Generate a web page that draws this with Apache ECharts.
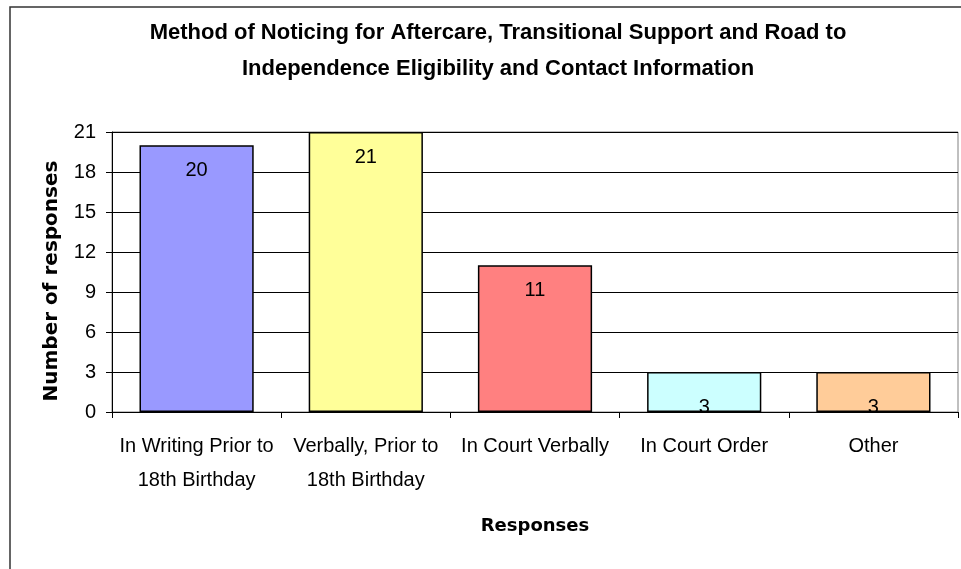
<!DOCTYPE html>
<html>
<head>
<meta charset="utf-8">
<script src="https://cdn.jsdelivr.net/npm/echarts@6/dist/echarts.min.js"></script>
<style>
  html, body { margin: 0; padding: 0; background: #fff; }
  #chart { width: 961px; height: 569px; }
</style>
</head>
<body>
<div id="chart"></div>
<script>
  // chart data
  var categories = ['In Writing Prior to\n18th Birthday', 'Verbally, Prior to\n18th Birthday', 'In Court Verbally', 'In Court Order', 'Other'];
  var responses = [20, 21, 11, 3, 3];
  var barColors = ['#9999FF', '#FFFF99', '#FF8080', '#CCFFFF', '#FFCC99'];
  var yTicks = [0, 3, 6, 9, 12, 15, 18, 21];

  var chart = echarts.init(document.getElementById('chart'));

  var option = {
    backgroundColor: '#fff',
    animation: false,
    title: {
      text: 'Method of Noticing for Aftercare, Transitional Support and Road to\nIndependence Eligibility and Contact Information',
      left: 493,
      textAlign: 'center',
      top: 10,
      textStyle: {
        fontFamily: 'Liberation Sans',
        fontWeight: 'bold',
        fontSize: 22,
        lineHeight: 36,
        color: '#000'
      }
    },
    graphic: [
      {
        // outer chart border
        type: 'rect',
        shape: { x: 10, y: 7, width: 1000, height: 700 },
        style: { fill: 'none', stroke: '#333', lineWidth: 1.5 },
        silent: true
      }
    ],
    grid: {
      left: 112,
      right: 3,
      top: 132,
      bottom: 157,
      show: true,
      borderColor: '#808080',
      borderWidth: 1
    },
    xAxis: {
      type: 'category',
      data: categories,
      name: 'Responses',
      nameLocation: 'middle',
      nameGap: 105,
      nameTextStyle: { fontFamily: 'DejaVu Sans', fontWeight: 'bold', fontSize: 18, color: '#000' },
      axisLine: { lineStyle: { color: '#000', width: 1 } },
      axisTick: { show: true, length: 6, interval: 0, lineStyle: { color: '#000' } },
      axisLabel: {
        interval: 0,
        margin: 17,
        fontFamily: 'Liberation Sans',
        fontSize: 20,
        lineHeight: 34,
        color: '#000'
      }
    },
    yAxis: {
      type: 'value',
      min: yTicks[0],
      max: yTicks[yTicks.length - 1],
      interval: 3,
      name: 'Number of responses',
      nameLocation: 'middle',
      nameGap: 50,
      nameTextStyle: { fontFamily: 'DejaVu Sans', fontWeight: 'bold', fontSize: 20, color: '#000', padding: [0, 18, 0, 0] },
      axisLine: { show: true, lineStyle: { color: '#000', width: 1 } },
      axisTick: { show: true, length: 6, lineStyle: { color: '#000' } },
      splitLine: { lineStyle: { color: '#000', width: 1 } },
      axisLabel: {
        margin: 16,
        fontFamily: 'Liberation Sans',
        fontSize: 20,
        color: '#000'
      }
    },
    series: [
      {
        type: 'bar',
        barCategoryGap: '32.5%',
        data: responses.map(function (v, i) {
          return {
            value: v,
            itemStyle: { color: barColors[i] },
            label: v < 5 ? { position: 'insideBottom', distance: -5 } : {}
          };
        }),
        itemStyle: { borderColor: '#000', borderWidth: 1.5 },
        label: {
          show: true,
          position: 'insideTop',
          distance: 15,
          fontFamily: 'Liberation Sans',
          fontSize: 20,
          color: '#000'
        }
      }
    ]
  };

  chart.setOption(option);
</script>
</body>
</html>
